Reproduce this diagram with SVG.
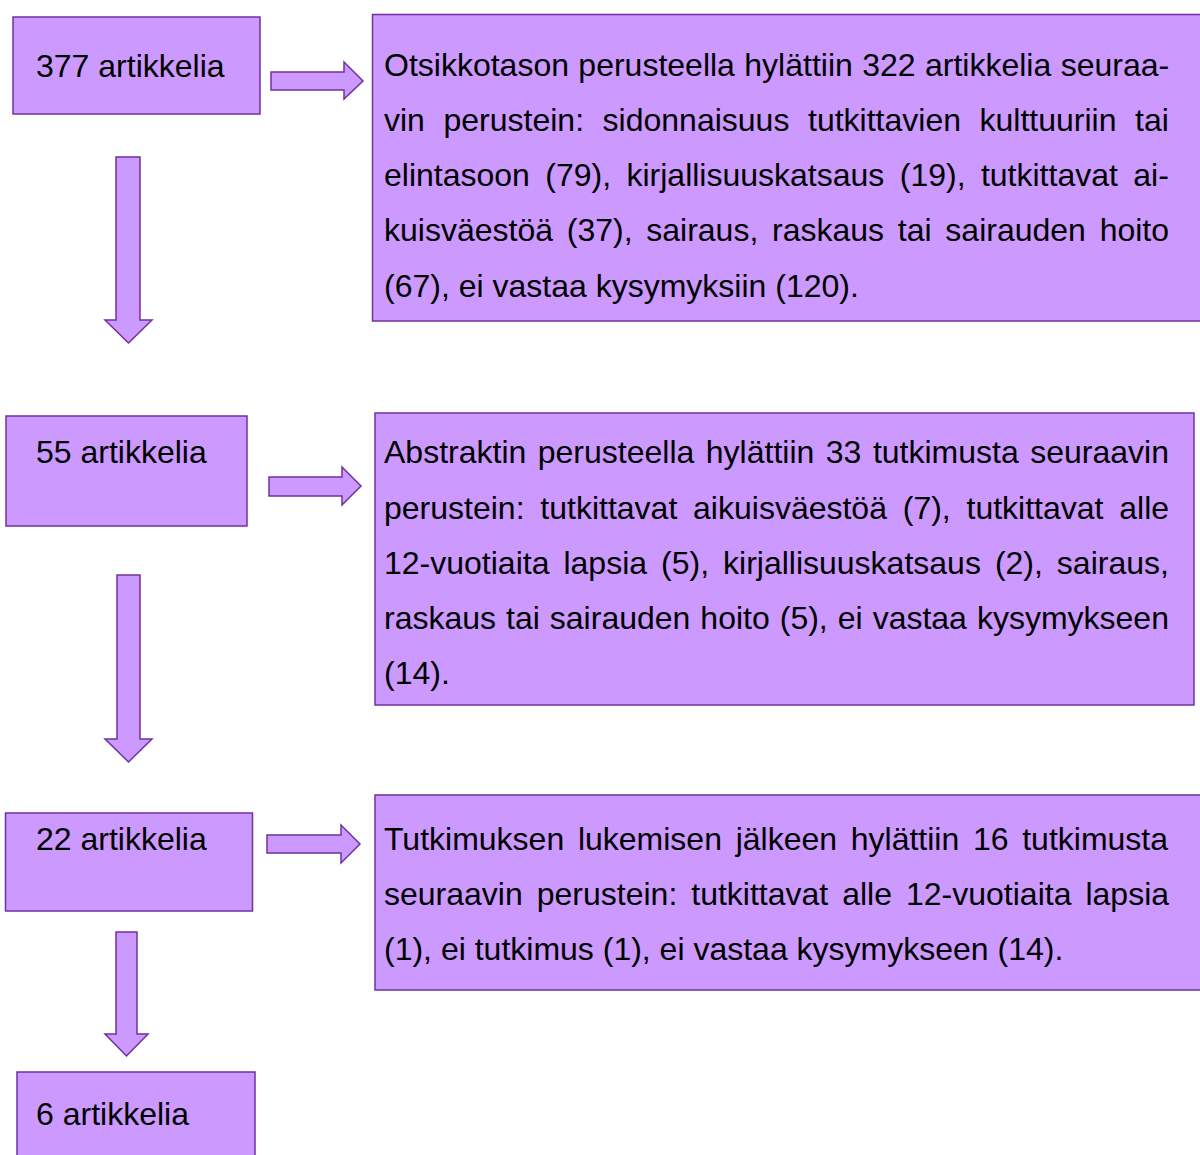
<svg xmlns="http://www.w3.org/2000/svg" width="1200" height="1155" viewBox="0 0 1200 1155">
<style>
.box{fill:#CC99FF;stroke:#7030A0;stroke-width:1.5}
.arr{fill:#CC99FF;stroke:#7030A0;stroke-width:1.5;stroke-linejoin:miter}
text{font-family:"Liberation Sans",Arial,sans-serif;font-size:32px;fill:#000}
</style>
<rect width="1200" height="1155" fill="#fff"/>
<g id="connectors">
<polygon class="arr" points="271,72 344,72 344,62 363,81 344,99 344,90 271,90"/>
<polygon class="arr" points="269,477 342,477 342,467 361,486 342,505 342,496 269,496"/>
<polygon class="arr" points="267,835 341,835 341,825 360,844 341,863 341,853 267,853"/>
<polygon class="arr" points="116,157 140,157 140,320 152,320 128.5,343 105,320 116,320"/>
<polygon class="arr" points="117,575 140,575 140,739 152,739 128.5,762 105,739 117,739"/>
<polygon class="arr" points="116,932 137,932 137,1034 148,1034 126.5,1056 105,1034 116,1034"/>
</g>
<g id="n377">
<rect class="box" x="13" y="17" width="247" height="97"/>
<text x="36" y="77">377 artikkelia</text>
</g>
<g id="otsikko">
<rect class="box" x="372.5" y="14.5" width="840" height="306.5"/>
<text x="384" y="76" word-spacing="0.5">Otsikkotason perusteella hylättiin 322 artikkelia seuraa-</text>
<text x="384" y="131" word-spacing="9.7">vin perustein: sidonnaisuus tutkittavien kulttuuriin tai</text>
<text x="384" y="186" word-spacing="6.5">elintasoon (79), kirjallisuuskatsaus (19), tutkittavat ai-</text>
<text x="384" y="241" word-spacing="4.85">kuisväestöä (37), sairaus, raskaus tai sairauden hoito</text>
<text x="384" y="297">(67), ei vastaa kysymyksiin (120).</text>
</g>
<g id="n55">
<rect class="box" x="6" y="416" width="241" height="110"/>
<text x="36" y="463">55 artikkelia</text>
</g>
<g id="abstrakti">
<rect class="box" x="375" y="413" width="819" height="292"/>
<text x="384" y="463" word-spacing="2.6">Abstraktin perusteella hylättiin 33 tutkimusta seuraavin</text>
<text x="384" y="519" word-spacing="6.9">perustein: tutkittavat aikuisväestöä (7), tutkittavat alle</text>
<text x="384" y="574" word-spacing="5.1">12-vuotiaita lapsia (5), kirjallisuuskatsaus (2), sairaus,</text>
<text x="384" y="629" word-spacing="1.1">raskaus tai sairauden hoito (5), ei vastaa kysymykseen</text>
<text x="384" y="684">(14).</text>
</g>
<g id="n22">
<rect class="box" x="5.5" y="813" width="247" height="98"/>
<text x="36" y="850">22 artikkelia</text>
</g>
<g id="lukeminen">
<rect class="box" x="375" y="795" width="840" height="195"/>
<text x="384" y="850" word-spacing="4.8">Tutkimuksen lukemisen jälkeen hylättiin 16 tutkimusta</text>
<text x="384" y="905" word-spacing="5.1">seuraavin perustein: tutkittavat alle 12-vuotiaita lapsia</text>
<text x="384" y="960">(1), ei tutkimus (1), ei vastaa kysymykseen (14).</text>
</g>
<g id="n6">
<rect class="box" x="17" y="1072" width="238" height="100"/>
<text x="36" y="1125">6 artikkelia</text>
</g>
</svg>
